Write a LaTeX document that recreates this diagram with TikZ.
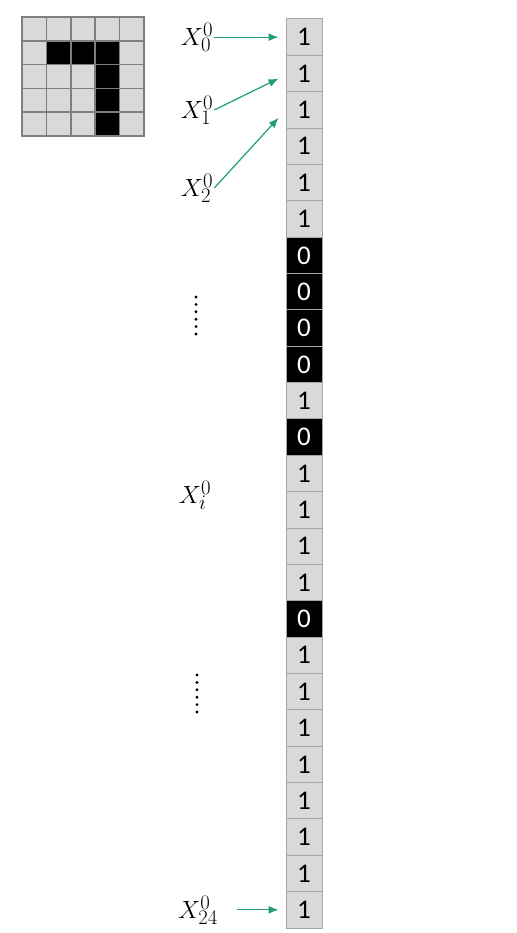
\documentclass[tikz,border=0pt]{standalone}
\usepackage{fontspec}
\setmainfont{Carlito}
\usetikzlibrary{arrows.meta}

\definecolor{cellgray}{HTML}{D9D9D9}
\definecolor{edgegray}{HTML}{A6A6A6}
\definecolor{gridedge}{HTML}{7F7F7F}
\definecolor{arrowgreen}{HTML}{1F9E6E}

\tikzset{
  bitcell/.style={draw=edgegray, line width=1pt, minimum width=36pt, minimum height=36.36pt, inner sep=0pt, font=\fontsize{27}{27}\selectfont},
  bit1/.style={bitcell, fill=cellgray, text=black},
  bit0/.style={bitcell, fill=black, text=white},
  pix1/.style={draw=gridedge, line width=1.5pt, fill=cellgray},
  pix0/.style={draw=gridedge, line width=1.5pt, fill=black},
  varlabel/.style={font=\fontsize{31}{31}\selectfont, inner sep=1pt},
  feed/.style={draw=arrowgreen, line width=1.2pt, -{Latex[length=10pt,width=8pt]}},
}

\begin{document}
\begin{tikzpicture}[x=1pt,y=-1pt]
  \useasboundingbox (0,0) rectangle (516,933);

  % the 5x5 image
  \foreach \row [count=\r from 0] in {{1,1,1,1,1},{1,0,0,0,1},{1,1,1,0,1},{1,1,1,0,1},{1,1,1,0,1}}
    \foreach \v [count=\c from 0] in \row
      \filldraw[pix\v] ({22+24.4*\c},{17+23.8*\r}) rectangle ++(24.4,23.8);

  % flattened column
  \foreach \v [count=\i from 0] in {1,1,1,1,1,1,0,0,0,0,1,0,1,1,1,1,0,1,1,1,1,1,1,1,1}
    \node[bit\v] (c\i) at (304,{19+36.36*(\i+0.5)}) {\v};

  \node[varlabel] (x0) at (197,37) {$X_0^0$};
  \node[varlabel] (x1) at (197,110) {$X_1^0$};
  \node[varlabel] (x2) at (197,188) {$X_2^0$};
  \node[varlabel] (xi) at (195,495) {$X_i^0$};
  \node[varlabel] (x24) at (198,910) {$X_{24}^0$};

  \draw[feed] (x0.east |- c0.west) -- ([xshift=-7pt]c0.west);
  \draw[feed] (x1.east) -- ([xshift=-7pt,yshift=-5pt]c1.west);
  \draw[feed] (x2.east) -- ([xshift=-7pt,yshift=-8pt]c2.west);
  \draw[feed] ([xshift=18pt]x24.east |- c24.west) -- ([xshift=-7pt]c24.west);

  % vertical dots
  \foreach \k in {0,...,5} {
    \fill (196,{297+7.4*\k}) circle (1.6);
    \fill (197,{675+7.4*\k}) circle (1.6);
  }

\end{tikzpicture}
\end{document}
